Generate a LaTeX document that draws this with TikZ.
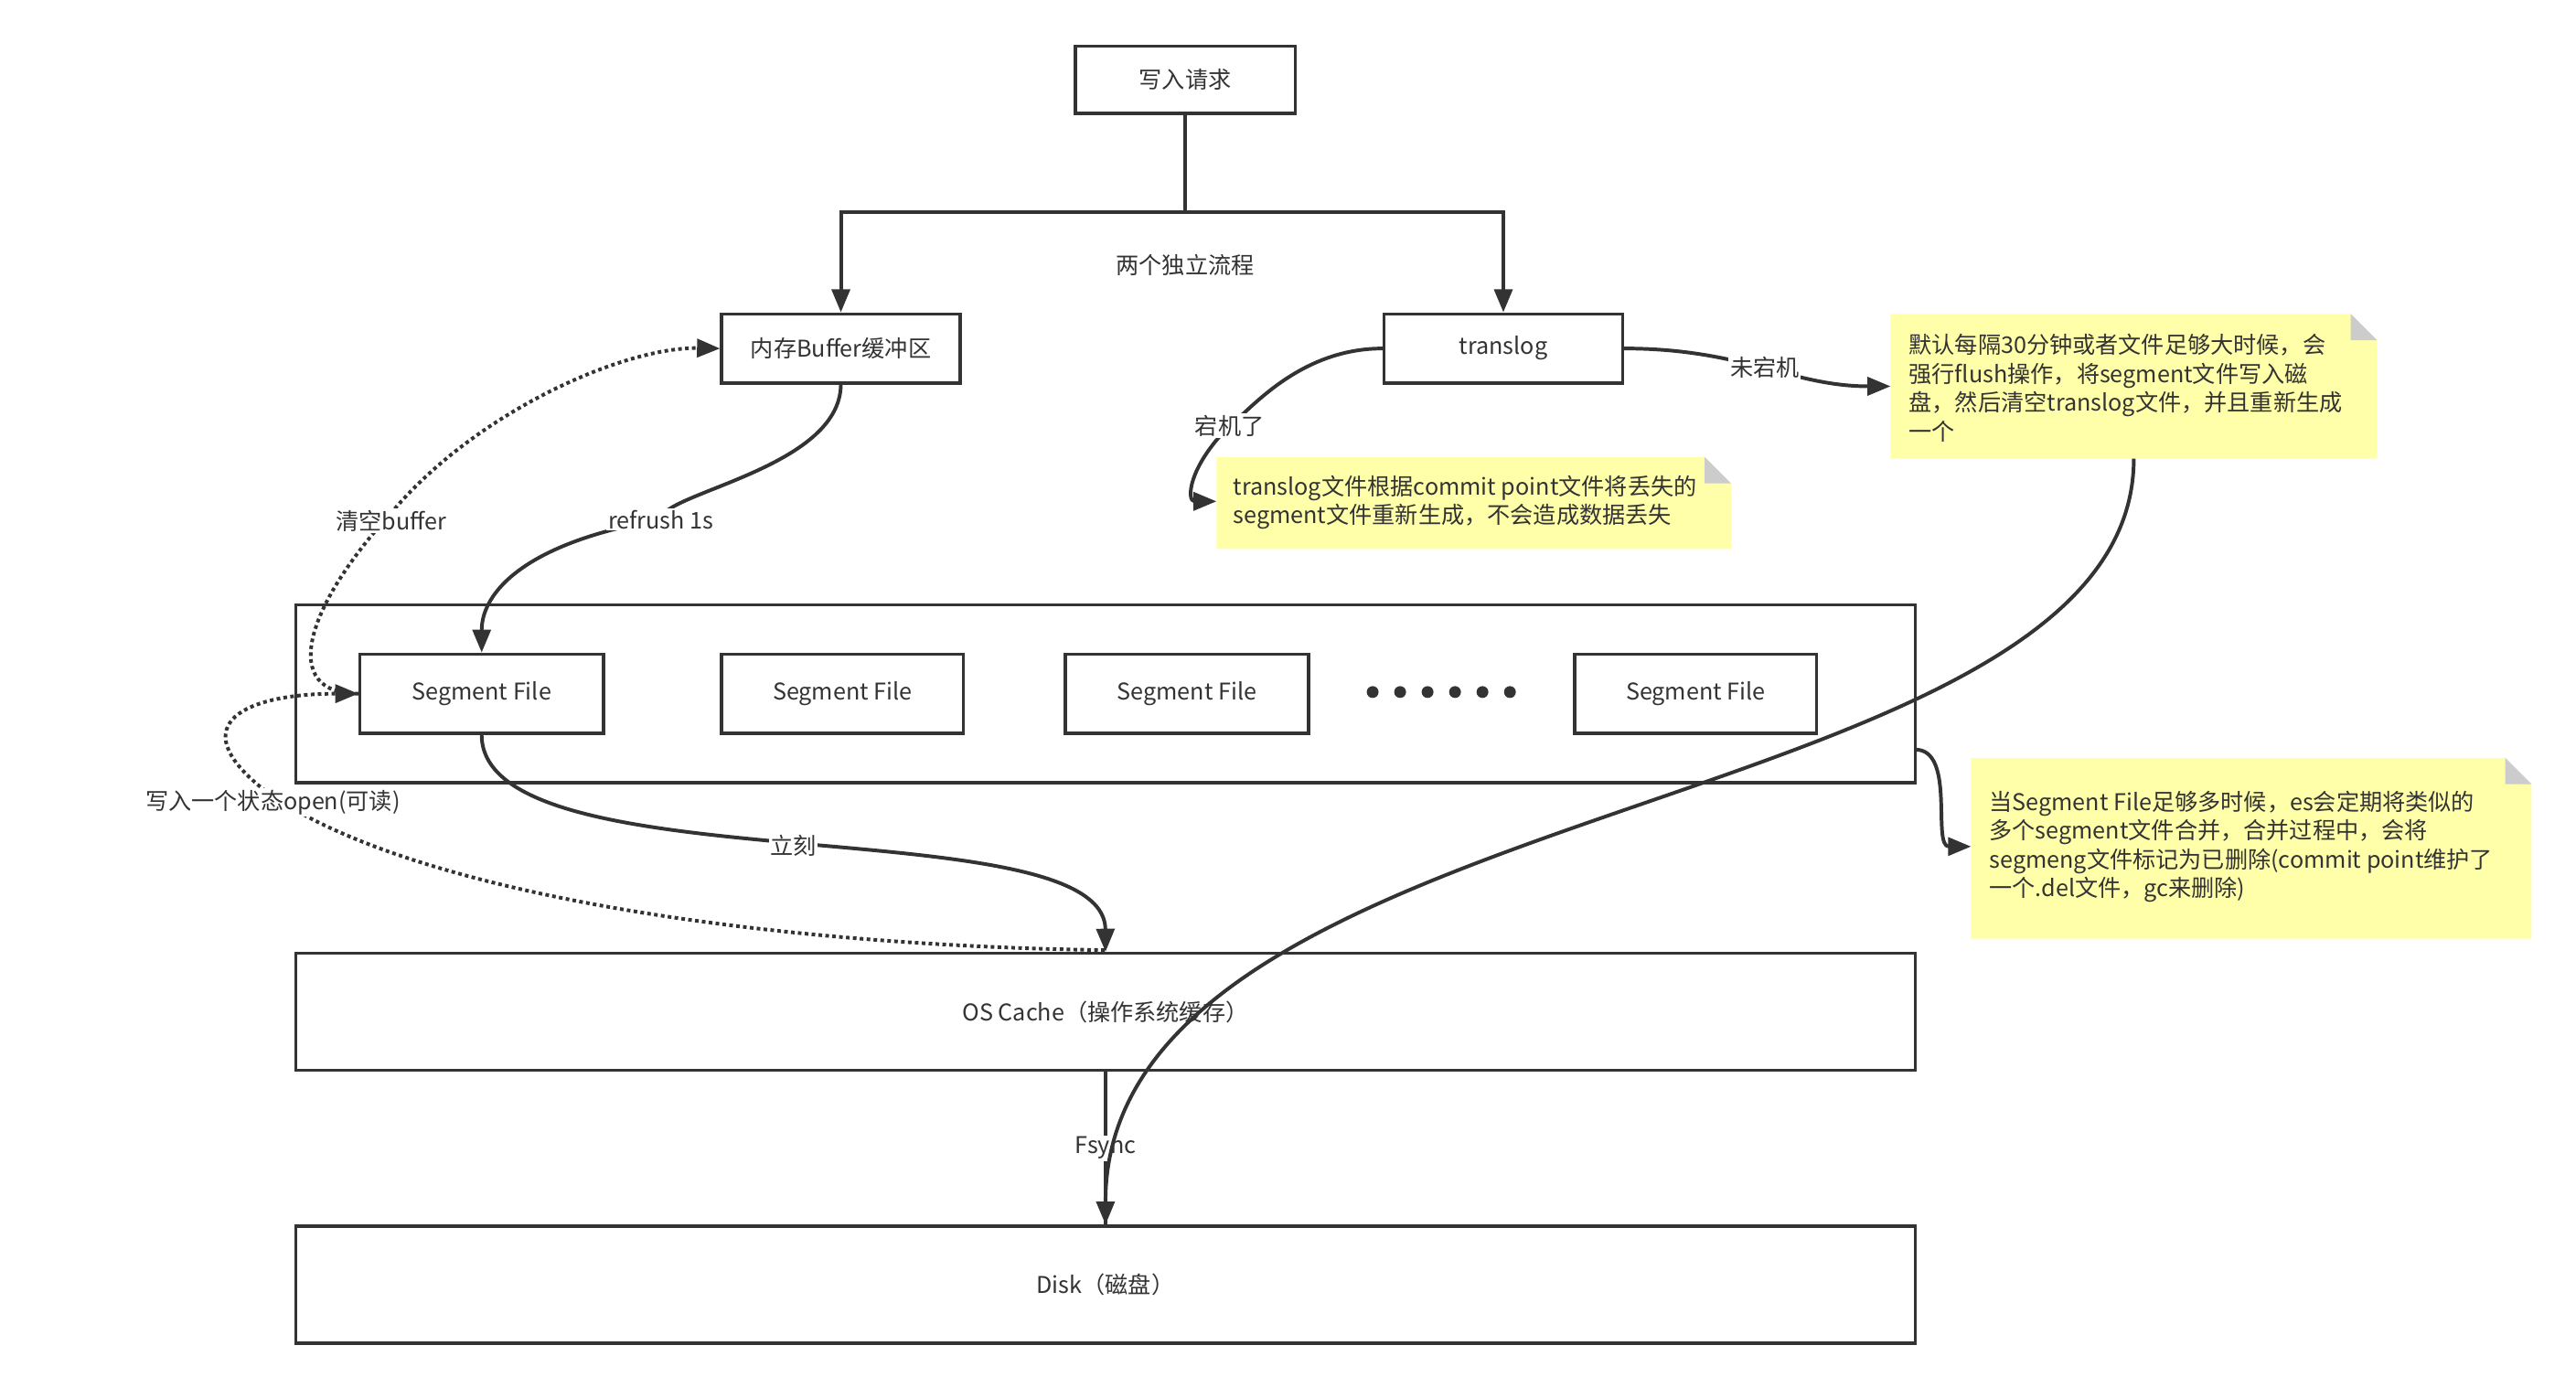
\documentclass[tikz,border=0pt]{standalone}
\usepackage{fontspec}
\setmainfont{Noto Sans CJK SC}
\usetikzlibrary{arrows.meta}
\definecolor{ln}{HTML}{333333}
\definecolor{nt}{HTML}{FFFFAA}
\begin{document}
\begin{tikzpicture}[x=1pt,y=-1pt,
  box/.style={draw=ln,line width=2pt,fill=white,text=ln,font=\fontsize{14}{17}\selectfont,inner sep=0pt},
  con/.style={draw=ln,line width=2.2pt,-{Triangle[length=14pt,width=11pt]}},
  dcon/.style={draw=ln,line width=2.2pt,dotted,-{Triangle[length=14pt,width=11pt]}},
  lab/.style={fill=white,text=ln,font=\fontsize{14}{17}\selectfont,inner sep=1pt},
  ntxt/.style={text=ln,font=\fontsize{14}{17.5}\selectfont,align=left,anchor=north west,inner sep=0pt}]
\useasboundingbox (0,0) rectangle (1567,844.4);
\fill[white] (0,0) rectangle (1567,844.4);
% boxes
\node[box,minimum width=134pt,minimum height=41pt] (req) at (721,48.5) {写入请求};
\node[box,minimum width=145pt,minimum height=42pt] (buf) at (511.5,212) {内存Buffer缓冲区};
\node[box,minimum width=145pt,minimum height=42pt] (tl) at (914.5,212) {translog};
\node[box,minimum width=985pt,minimum height=108pt] (cont) at (672.5,422) {};
\node[box,minimum width=148pt,minimum height=48pt] (s1) at (293,422) {Segment File};
\node[box,minimum width=147pt,minimum height=48pt] (s2) at (512.5,422) {Segment File};
\node[box,minimum width=148pt,minimum height=48pt] (s3) at (722,422) {Segment File};
\node[box,minimum width=147pt,minimum height=48pt] (s4) at (1031.5,422) {Segment File};
\foreach \i in {0,...,5} \fill[ln] (835+\i*16.7,421) circle (3.6pt);
\node[box,minimum width=985pt,minimum height=71pt] (os) at (672.5,615.5) {OS Cache（操作系统缓存）};
\node[box,minimum width=985pt,minimum height=71pt] (disk) at (672.5,781.5) {Disk（磁盘）};
% notes
\coordinate (n1) at (740,305);
\fill[nt] (740,278) -- (1037,278) -- (1053,294) -- (1053,334) -- (740,334) -- cycle;
\fill[black!20] (1037,278) -- (1053,294) -- (1037,294) -- cycle;
\node[ntxt] (t1) at (750,289) {translog文件根据commit point文件将丢失的\\segment文件重新生成，不会造成数据丢失};
\fill[nt] (1150,191) -- (1430,191) -- (1446,207) -- (1446,279) -- (1150,279) -- cycle;
\fill[black!20] (1430,191) -- (1446,207) -- (1430,207) -- cycle;
\node[ntxt] (t2) at (1161,203) {默认每隔30分钟或者文件足够大时候，会\\强行flush操作，将segment文件写入磁\\盘，然后清空translog文件，并且重新生成\\一个};
\fill[nt] (1199,461) -- (1524,461) -- (1540,477) -- (1540,571) -- (1199,571) -- cycle;
\fill[black!20] (1524,461) -- (1540,477) -- (1524,477) -- cycle;
\node[ntxt] (t3) at (1210,481) {当Segment File足够多时候，es会定期将类似的\\多个segment文件合并，合并过程中，会将\\segmeng文件标记为已删除(commit point维护了\\一个.del文件，gc来删除)};
\coordinate (n2l) at (1150,235);
\coordinate (n2b) at (1298,279);
\coordinate (n3l) at (1199,515);
% connectors
\draw[draw=ln,line width=2.2pt] (req.south) -- (721,129);
\draw[con] (721,129) -| (buf.north);
\draw[con] (721,129) -| (tl.north);
\node[lab] at (721,161) {两个独立流程};
\draw[con] (buf.south) .. controls (511,285) and (402,300) .. (402,316) .. controls (320,330) and (293,360) .. (s1.north);
\node[lab] at (402,316) {refrush 1s};
\draw[dcon] (s1.west) .. controls (170,422) and (185,370) .. (238,312) .. controls (290,250) and (380,211) .. (buf.west);
\node[lab] at (238,317) {清空buffer};
\draw[dcon] (672,578) .. controls (450,575) and (240,540) .. (160,480) .. controls (110,440) and (150,422) .. (s1.west);
\node[lab] at (166,488) {写入一个状态open(可读)};
\draw[con] (s1.south) .. controls (293,540) and (672,490) .. node[lab,pos=0.5] {立刻} (os.north);
\draw[draw=ln,line width=2.2pt] (os.south) -- node[lab] {Fsync} (disk.north);
\draw[con] (n2b) .. controls (1298,500) and (672,480) .. (disk.north);
\draw[con] (tl.east) .. controls (1060,212) and (1090,235) .. node[lab,pos=0.5] {未宕机} (n2l);
\draw[con] (tl.west) .. controls (790,212) and (760,250) .. (748,259) .. controls (722,285) and (722,305) .. (n1);
\node[lab] at (748,259) {宕机了};
\draw[con] (1165,456) .. controls (1190,456) and (1175,515) .. (n3l);
\end{tikzpicture}
\end{document}
